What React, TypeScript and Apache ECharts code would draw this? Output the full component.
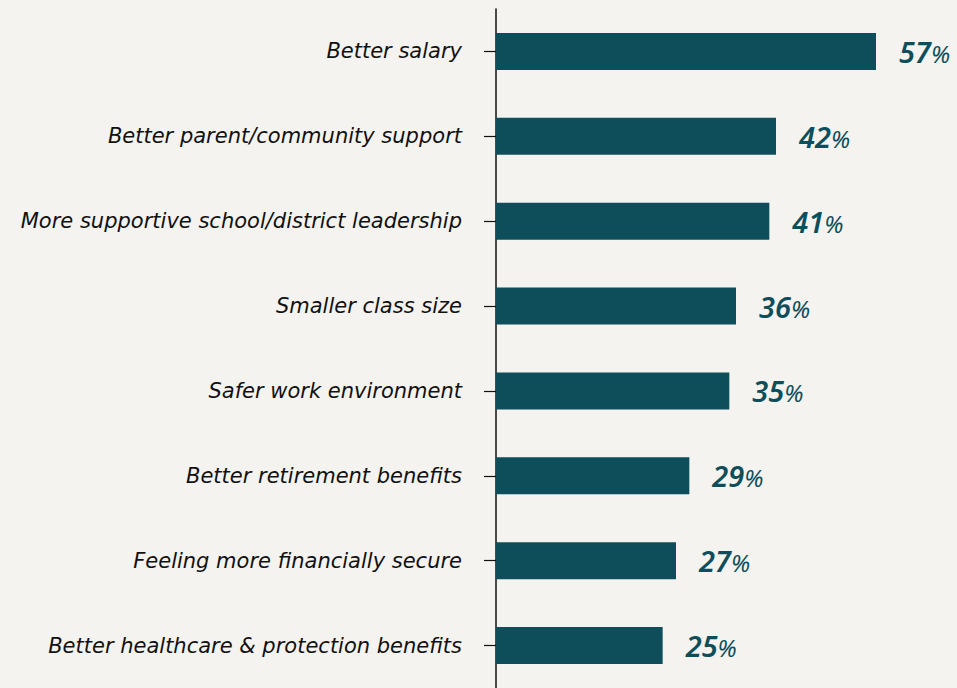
import React, { useEffect, useRef } from "react";
import * as echarts from "echarts";

const categories = [
  "Better salary",
  "Better parent/community support",
  "More supportive school/district leadership",
  "Smaller class size",
  "Safer work environment",
  "Better retirement benefits",
  "Feeling more financially secure",
  "Better healthcare & protection benefits",
];
const values = [57, 42, 41, 36, 35, 29, 27, 25];

const BAR = "#0e4e5a";
const BG = "#f4f3f0";

export default function App() {
  const ref = useRef<HTMLDivElement>(null);
  useEffect(() => {
    document.body.style.margin = "0";
    const chart = echarts.init(ref.current!, null, { renderer: "svg" });
    chart.setOption({
      animation: false,
      backgroundColor: BG,
      grid: { left: 496, right: 0, top: 9, bottom: -1, containLabel: false },
      xAxis: {
        type: "value",
        min: 0,
        max: 69.15,
        show: false,
      },
      yAxis: {
        type: "category",
        data: categories,
        inverse: true,
        axisLine: { show: true, lineStyle: { color: "#111", width: 1.5 } },
        axisTick: { show: true, length: 12, alignWithLabel: true, lineStyle: { color: "#111", width: 1.2 } },
        axisLabel: {
          margin: 34,
          color: "#111",
          fontFamily: "DejaVu Sans",
          fontStyle: "italic",
          fontSize: 21,
        },
      },
      series: [
        {
          type: "bar",
          data: values,
          barWidth: 37,
          itemStyle: { color: BAR },
          label: {
            show: true,
            position: "right",
            distance: 23,
            formatter: (p: any) => `{n|${p.value}}{p|%}`,
            rich: {
              n: { fontSize: 29, fontWeight: 600, fontStyle: "italic", color: BAR, fontFamily: "Noto Sans" },
              p: { fontSize: 24, fontStyle: "italic", color: BAR, fontFamily: "Noto Sans", padding: [4, 0, 0, 0] },
            },
          },
        },
      ],
    });
    return () => chart.dispose();
  }, []);
  return <div ref={ref} style={{ width: 957, height: 688, position: "absolute", left: 0, top: 0 }} />;
}
